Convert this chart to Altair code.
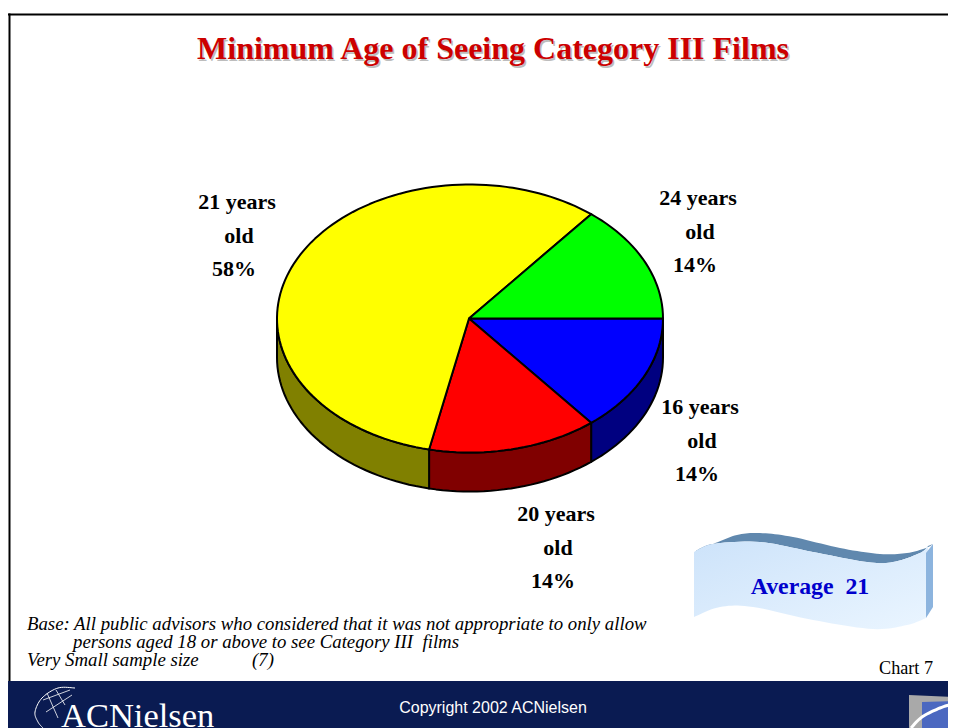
import math
import altair as alt

# ---- chart values ----
categories = ["16 years old", "20 years old", "21 years old", "24 years old"]
shares = [14.2, 14.2, 57.4, 14.2]
top_colors = ["#0000FF", "#FF0000", "#FFFF00", "#00FF00"]
side_colors = ["#000080", "#800000", "#808000", "#008000"]
label_lines = [["16 years", "old", "14%"], ["20 years", "old", "14%"],
               ["21 years", "old", "58%"], ["24 years", "old", "14%"]]
label_centers = [(700, 414), (556, 521), (237, 209), (698, 205)]

title = "Minimum Age of Seeing Category III Films"
notes = [("Base: All public advisors who considered that it was not appropriate to only allow", 27, 630),
         ("persons aged 18 or above to see Category III\u00a0 films", 73, 648),
         ("Very Small sample size", 27, 666),
         ("(7)", 252, 666)]

# decoration outlines
banner_top = [(694, 552), (713, 544), (737, 535), (760, 533), (793, 537), (840, 548), (880, 554), (907, 553), (926, 548), (933, 544)]
banner_front_top = [(694, 552), (713, 544), (760, 542), (813, 552), (867, 562), (893, 562), (920, 553), (928, 546)]
banner_bottom = [(694, 617), (720, 607), (753, 607), (813, 620), (873, 629), (907, 625), (926, 618)]

CX, CY, RX, RY, DEPTH = 470, 318.5, 193, 134, 39
APEX_X = 469
ORIGIN = 8


def spline(pts, n=10):
    out = []
    p = [pts[0]] + list(pts) + [pts[-1]]
    for i in range(1, len(p) - 2):
        for k in range(n):
            t = k / n
            c = []
            for d in (0, 1):
                a, b, e, f = p[i - 1][d], p[i][d], p[i + 1][d], p[i + 2][d]
                c.append(0.5 * (2 * b + (e - a) * t + (2 * a - 5 * b + 4 * e - f) * t * t + (3 * b - a - 3 * e + f) * t ** 3))
            out.append(tuple(c))
    out.append(tuple(pts[-1]))
    return out


def shape(pts, fill=None, stroke=None, sw=0, closed=True, **kw):
    pts = [list(p) for p in pts]
    if closed:
        geom = {"type": "Polygon", "coordinates": [pts + [pts[0]]]}
    else:
        geom = {"type": "LineString", "coordinates": pts}
    feature = {"type": "Feature", "geometry": geom, "properties": {}}
    args = dict(filled=closed, strokeWidth=sw, **kw)
    if fill is not None:
        args["fill"] = fill
    if stroke is not None:
        args["stroke"] = stroke
    else:
        args["strokeWidth"] = 0
    return alt.Chart(alt.Data(values=[feature])).mark_geoshape(**args).project(
        type="identity", scale=1, translate=[-ORIGIN, -ORIGIN]
    )


def text(s, x, y, size, font="Liberation Serif", color="black", bold=False, italic=False, align="left"):
    kw = dict(font=font, fontSize=size, color=color, align=align, baseline="alphabetic")
    if bold:
        kw["fontWeight"] = "bold"
    if italic:
        kw["fontStyle"] = "italic"
    return alt.Chart(alt.Data(values=[{"t": s}])).mark_text(**kw).encode(
        x=alt.value(x - ORIGIN), y=alt.value(y - ORIGIN), text="t:N"
    )


def ell(deg, dy=0):
    a = math.radians(deg)
    return (CX + RX * math.cos(a), CY + RY * math.sin(a) + dy)


def arc(a0, a1, dy=0):
    n = max(2, int(abs(a1 - a0) / 2))
    return [ell(a0 + (a1 - a0) * i / n, dy) for i in range(n + 1)]


layers = []

# pie walls then faces, clockwise from three o'clock
total = sum(shares)
start = 0
spans = []
for v in shares:
    spans.append((start, start + v / total * 360))
    start += v / total * 360

for (a0, a1), col in zip(spans, side_colors):
    if a0 < 180:
        e = min(a1, 180)
        layers.append(shape(arc(a0, e) + arc(e, a0, DEPTH), fill=col, stroke="black", sw=2, strokeJoin="round"))
for (a0, a1), col in zip(spans, top_colors):
    layers.append(shape([(APEX_X, CY)] + arc(a0, a1), fill=col, stroke="black", sw=2, strokeJoin="round"))

# pie labels
for lines, (cx, by) in zip(label_lines, label_centers):
    for i, s in enumerate(lines):
        layers.append(text(s, cx + (2 if i == 1 else (-3 if i == 2 else 0)), by + i * 33.5, 22, bold=True, align="center"))

# slide frame
frame = alt.Chart(alt.Data(values=[{"a": 0}]))
layers.append(frame.mark_rule(color="black", strokeWidth=2).encode(
    x=alt.value(0), x2=alt.value(940), y=alt.value(6.5)))
layers.append(frame.mark_rule(color="black", strokeWidth=2).encode(
    x=alt.value(1.5), y=alt.value(5.5), y2=alt.value(673)))

# title with soft shadow
layers.append(text(title, 494.5, 60.5, 32, color="#BDBDBD", bold=True, align="center"))
layers.append(text(title, 493, 59, 32, color="#CC0000", bold=True, align="center"))

# footnotes
for s, x, y in notes:
    layers.append(text(s, x, y, 18.8, italic=True))
layers.append(text("Chart 7", 879, 674, 18.2))

# banner
grad = alt.Gradient(gradient="linear", x1=0, y1=0, x2=1, y2=1,
                    stops=[alt.GradientStop(color="#CDE3FA", offset=0), alt.GradientStop(color="#EAF5FF", offset=1)])
front_top = spline(banner_front_top)
front_bottom = spline(banner_bottom)
layers.append(shape(spline(banner_top) + front_top[::-1], fill="#6088AE"))
layers.append(shape(front_top + front_bottom[::-1], fill=grad))
layers.append(shape([(926, 553), (933, 544), (933, 607), (926, 618)], fill="#8CB4DE"))
layers.append(text("Average\u00a0 21", 810, 594, 23.8, color="#0000CC", bold=True, align="center"))

# footer band
layers.append(shape([(8, 681), (956, 681), (956, 728), (8, 728)], fill="#0A1B52"))
layers.append(text("Copyright 2002 ACNielsen", 493, 713, 16, font="Liberation Sans", color="white", align="center"))
layers.append(text("ACNielsen", 61, 727, 34.5, color="white"))

# company mark
layers.append(shape(spline([(75, 688), (58, 688), (42, 698), (35, 712), (38, 722), (43, 728)]), stroke="white", sw=1, closed=False))
for a, b in [((43, 700), (70, 690)), ((46, 712), (72, 695)), ((47, 693), (58, 718)), ((56, 690), (65, 705))]:
    layers.append(shape([a, b], stroke="white", sw=0.8, closed=False))

layers.append(shape([(909, 695), (956, 697), (956, 728), (909, 728)], fill="#A9A9A9"))
layers.append(shape([(922, 702), (952, 701), (952, 728), (922, 728)], fill="#4B68C0"))
layers.append(shape(spline([(911, 728), (922, 717), (940, 708), (956, 703)]), stroke="white", sw=3, closed=False))

chart = alt.layer(*layers).properties(
    width=940, height=720, padding=0, autosize=alt.AutoSizeParams(type="none"), background="white"
).configure_view(stroke=None)

chart.save("out.html", embed_options={"renderer": "svg", "actions": False})
